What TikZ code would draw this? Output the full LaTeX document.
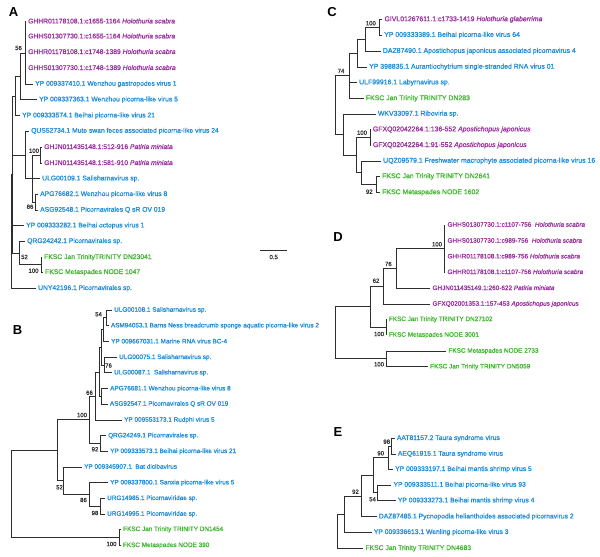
\documentclass[tikz,border=0pt]{standalone}
\usepackage{fontspec}
\setmainfont{Liberation Sans}
\newfontfamily\lfam{Liberation Sans}[FakeBold=1.2]
\newfontfamily\bfam{Liberation Sans}[FakeBold=0.8]
\definecolor{vpur}{RGB}{155,50,158}
\definecolor{vblu}{RGB}{32,142,216}
\definecolor{vgre}{RGB}{68,182,52}
\def\lfs{6.7}
\newcommand\leaffont{\lfam\fontsize{\lfs}{8}\selectfont}
\newcommand\bsfont{\bfam\fontsize{6}{7}\selectfont}
\newcommand\kids[2]{\foreach \c in {#2} {\draw[br] (#1) |- (\c);}}
\tikzset{
  br/.style={draw=black!82, line width=0.75pt},
  lf/.style={anchor=west, inner xsep=2pt, inner ysep=0pt, font=\leaffont, text height=4.8pt, text depth=1.4pt},
  pu/.style={lf, text=vpur},
  bl/.style={lf, text=vblu},
  gr/.style={lf, text=vgre},
  bs/.style={font=\bsfont, inner sep=0pt, text=black!82},
  panel/.style={font=\fontsize{13}{15}\selectfont\bfseries, inner sep=0pt}
}
\begin{document}
\begin{tikzpicture}[x=1pt,y=-1pt]
\useasboundingbox (0,0) rectangle (600,557);
% ================= Panel A =================
\def\lfs{6.75}
\node[panel] (LA) at (13.5,12) {A};
\node[pu] (A1) at (26,21.7) {GHHR01178108.1:c1655-1164 \textit{Holothuria scabra}};
\node[pu] (A2) at (26,36.7) {GHHS01307730.1:c1655-1164 \textit{Holothuria scabra}};
\node[pu] (A3) at (26,52.3) {GHHR01178108.1:c1748-1389 \textit{Holothuria scabra}};
\node[pu] (A4) at (26,68.3) {GHHS01307730.1:c1748-1389 \textit{Holothuria scabra}};
\node[bl] (A5) at (33,84) {YP 009337410.1 Wenzhou gastropodes virus 1};
\node[bl] (A6) at (37,99.7) {YP 009337363.1 Wenzhou picorna-like virus 5};
\node[bl] (A7) at (20,115.7) {YP 009333574.1 Beihai picorna-like virus 21};
\node[bl] (A8) at (29,131) {QUS52734.1 Mute swan feces associated picorna-like virus 24};
\node[pu] (A9) at (42,147.3) {GHJN011435148.1:512-916 \textit{Patiria miniata}};
\node[pu] (A10) at (42,163.3) {GHJN011435148.1:581-910 \textit{Patiria miniata}};
\node[bl] (A11) at (40,178.7) {ULG00109.1 Salisharnavirus sp.};
\node[bl] (A12) at (38,194.3) {APG76682.1 Wenzhou picorna-like virus 8};
\node[bl] (A13) at (38,210) {ASG92548.1 Picornavirales Q sR OV 019};
\node[bl] (A14) at (24,225.7) {YP 009333282.1 Beihai octopus virus 1};
\node[bl] (A15) at (25,241.3) {QRG24242.1 Picornavirales sp.};
\node[gr] (A16) at (42,257.3) {FKSC Jan TrinityTRINITY DN23041};
\node[gr] (A17) at (43,272.3) {FKSC Metaspades NODE 1047};
\node[bl] (A18) at (36,288.3) {UNY42196.1 Picornavirales sp.};
\coordinate (a1) at (25,52.9);
\coordinate (a56) at (20.7,76.3);
\coordinate (a3) at (15.7,96);
\coordinate (aGH) at (40.7,155.3);
\coordinate (aAA) at (35,202.2);
\coordinate (aU) at (32.3,178.75);
\coordinate (aQ) at (25.7,154.9);
\coordinate (aF) at (41,264.8);
\coordinate (a52) at (19,253);
\coordinate (aB) at (12.7,174.5);
\coordinate (aR) at (11.7,231.4);
\kids{a1}{A1.west,A2.west,A3.west,A4.west,A5.west}
\kids{a56}{a1,A6.west}
\kids{a3}{a56,A7.west}
\kids{aGH}{A9.west,A10.west}
\kids{aAA}{A12.west,A13.west}
\kids{aU}{aGH,A11.west,aAA}
\kids{aQ}{A8.west,aU}
\kids{aF}{A16.west,A17.west}
\kids{a52}{A15.west,aF}
\kids{aB}{a3,aQ,A14.west,a52}
\kids{aR}{aB,A18.west}
\node[bs] (sa1) at (18.5,48) {56};
\node[bs] (sa2) at (34,150.7) {100};
\node[bs] (sa3) at (30,206.7) {86};
\node[bs] (sa4) at (24.5,257) {52};
\node[bs] (sa5) at (33.5,270.7) {100};
\coordinate (sbL) at (260,250);
\coordinate (sbR) at (287.3,250);
\draw[br] (sbL) -- (sbR);
\node[bs] (sbT) at (273.7,257) {0.5};
% ================= Panel B =================
\def\lfs{6.4}
\node[panel] (LB) at (17.5,330) {B};
\node[bl] (B1) at (112,310) {ULG00108.1 Salisharnavirus sp.};
\node[bl] (B2) at (108.7,325.7) {ASM94053.1 Barns Ness breadcrumb sponge aquatic picorna-like virus 2};
\node[bl] (B3) at (109,341.7) {YP 009667031.1 Marine RNA virus BC-4};
\node[bl] (B4) at (117,357.3) {ULG00075.1 Salisharnavirus sp.};
\node[bl] (B5) at (112,372.7) {ULG00087.1\ \ Salisharnavirus sp.};
\node[bl] (B6) at (108,388.7) {APG76681.1 Wenzhou picorna-like virus 8};
\node[bl] (B7) at (107.7,404) {ASG92547.1 Picornavirales Q sR OV 019};
\node[bl] (B8) at (122,420) {YP 009553173.1 Rudphi virus 5};
\node[bl] (B9) at (106,435.7) {QRG24249.1 Picornavirales sp.};
\node[bl] (B10) at (108,451.3) {YP 009333573.1 Beihai picorna-like virus 21};
\node[bl] (B11) at (82,467) {YP 009345907.1\ \ Bat dicibavirus};
\node[bl] (B12) at (108,482.7) {YP 009337800.1 Sanxia picorna-like virus 5};
\node[bl] (B13) at (105,498.3) {URG14985.1 Picornaviridae sp.};
\node[bl] (B14) at (105,514) {URG14995.1 Picornaviridae sp.};
\node[gr] (B15) at (121,529.3) {FKSC Jan Trinity TRINITY DN1454};
\node[gr] (B16) at (120.7,545.3) {FKSC Metaspades NODE 390};
\coordinate (b54) at (106,317.85);
\coordinate (bP1) at (103,329.8);
\coordinate (b76) at (104.3,365);
\coordinate (bP2) at (101.5,347.4);
\coordinate (bAA) at (101,396.35);
\coordinate (bP3) at (99.5,371.9);
\coordinate (b66) at (95.7,395.95);
\coordinate (b92) at (100,443.5);
\coordinate (b100) at (89.3,419.7);
\coordinate (b98) at (100,506.15);
\coordinate (b86) at (89.3,494.4);
\coordinate (b52) at (63.3,480.7);
\coordinate (bU) at (57.3,450.2);
\coordinate (bF) at (119.3,537.3);
\coordinate (bR) at (11.7,493.75);
\kids{b54}{B1.west,B2.west}
\kids{bP1}{b54,B3.west}
\kids{b76}{B4.west,B5.west}
\kids{bP2}{bP1,b76}
\kids{bAA}{B6.west,B7.west}
\kids{bP3}{bP2,bAA}
\kids{b66}{bP3,B8.west}
\kids{b92}{B9.west,B10.west}
\kids{b100}{b66,b92}
\kids{b98}{B13.west,B14.west}
\kids{b86}{B12.west,b98}
\kids{b52}{B11.west,b86}
\kids{bU}{b100,b52}
\kids{bF}{B15.west,B16.west}
\kids{bR}{bU,bF}
\node[bs] (sb1) at (98.5,314.3) {54};
\node[bs] (sb2) at (108.5,365.5) {76};
\node[bs] (sb3) at (89.5,392.7) {66};
\node[bs] (sb4) at (82,415) {100};
\node[bs] (sb5) at (95,449.3) {92};
\node[bs] (sb6) at (59.5,487.3) {52};
\node[bs] (sb7) at (83.5,500) {86};
\node[bs] (sb8) at (95,513) {98};
\node[bs] (sb9) at (111.5,544) {100};
% ================= Panel C =================
\def\lfs{6.9}
\node[panel] (LC) at (332,12) {C};
\node[pu] (C1) at (382.3,19.5) {GIVL01267611.1:c1733-1419 \textit{Holothuria glaberrima}};
\node[bl] (C2) at (382,35.2) {YP 009333389.1 Beihai picorna-like virus 64};
\node[bl] (C3) at (380.7,51.2) {DAZ87490.1 Apostichopus japonicus associated picornavirus 4};
\node[bl] (C4) at (367,67) {YP 398835.1 Aurantiochytrium single-stranded RNA virus 01};
\node[bl] (C5) at (357,82.6) {ULF99916.1 Labyrnavirus sp.};
\node[gr] (C6) at (363.7,98.5) {FKSC Jan Trinity TRINITY DN283};
\node[bl] (C7) at (375.7,114) {WKV33097.1 Riboviria sp.};
\node[pu] (C8) at (370.7,129.6) {GFXQ02042264.1:136-552 \textit{Apostichopus japonicus}};
\node[pu] (C9) at (370.7,145.3) {GFXQ02042264.1:91-552 \textit{Apostichopus japonicus}};
\node[bl] (C10) at (381,161) {UQZ09579.1 Freshwater macrophyte associated picorna-like virus 16};
\node[gr] (C11) at (380,176.5) {FKSC Jan Trinity TRINITY DN2641};
\node[gr] (C12) at (380,192.5) {FKSC Metaspades NODE 1602};
\coordinate (c100) at (379.3,27.35);
\coordinate (cD) at (365.7,39.3);
\coordinate (cY) at (357.3,53.1);
\coordinate (c74) at (349.3,75.8);
\coordinate (cG) at (370,137.45);
\coordinate (c92) at (376.7,184.5);
\coordinate (cU) at (361.7,172.75);
\coordinate (cM) at (356,155.1);
\coordinate (cW) at (343.3,134.55);
\coordinate (cR) at (335.7,105.2);
\kids{c100}{C1.west,C2.west}
\kids{cD}{c100,C3.west}
\kids{cY}{cD,C4.west}
\kids{c74}{cY,C5.west,C6.west}
\kids{cG}{C8.west,C9.west}
\kids{c92}{C11.west,C12.west}
\kids{cU}{C10.west,c92}
\kids{cM}{cG,cU}
\kids{cW}{C7.west,cM}
\kids{cR}{c74,cW}
\node[bs] (sc1) at (370.8,23.3) {100};
\node[bs] (sc2) at (341,71) {74};
\node[bs] (sc3) at (362,132.7) {100};
\node[bs] (sc4) at (369.3,191.7) {92};
% ================= Panel D =================
\def\lfs{6.4}
\node[panel] (LD) at (338,237) {D};
\node[pu] (D1) at (445.3,225) {GHHS01307730.1:c1107-756\ \ \textit{Holothuria scabra}};
\node[pu] (D2) at (445.3,241) {GHHS01307730.1:c989-756\ \ \textit{Holothuria scabra}};
\node[pu] (D3) at (445.3,256.7) {GHHR01178108.1:c989-756 \textit{Holothuria scabra}};
\node[pu] (D4) at (445.3,272.3) {GHHR01178108.1:c1107-756 \textit{Holothuria scabra}};
\node[pu] (D5) at (430.3,288.3) {GHJN011435149.1:260-622 \textit{Patiria miniata}};
\node[pu] (D6) at (430.3,304) {GFXQ02001353.1:157-453 \textit{Apostichopus japonicus}};
\node[gr] (D7) at (386.7,319.3) {FKSC Jan Trinity TRINITY DN27102};
\node[gr] (D8) at (386.7,335) {FKSC Metaspades NODE 3001};
\node[gr] (D9) at (446.3,351) {FKSC Metaspades NODE 2733};
\node[gr] (D10) at (428,366.7) {FKSC Jan Trinity TRINITY DN5059};
\coordinate (d100) at (444,248.75);
\coordinate (d76) at (396.7,268.5);
\coordinate (d62) at (383.3,286.25);
\coordinate (dF) at (386.7,327.15);
\coordinate (dA) at (370,306.7);
\coordinate (dB) at (386.7,358.85);
\coordinate (dR) at (335.7,332.8);
\kids{d100}{D1.west,D2.west,D3.west,D4.west}
\kids{d76}{d100,D5.west}
\kids{d62}{d76,D6.west}
\kids{dF}{D7.west,D8.west}
\kids{dA}{d62,dF}
\kids{dB}{D9.west,D10.west}
\kids{dR}{dA,dB}
\node[bs] (sd1) at (437,244.3) {100};
\node[bs] (sd2) at (388.3,264) {76};
\node[bs] (sd3) at (376,280.7) {62};
\node[bs] (sd4) at (379,334) {100};
\node[bs] (sd5) at (379,364.3) {100};
% ================= Panel E =================
\def\lfs{6.75}
\node[panel] (LE) at (338,432) {E};
\node[bl] (E1) at (394.7,438.3) {AAT81157.2 Taura syndrome virus};
\node[bl] (E2) at (395.7,454) {AEQ61915.1 Taura syndrome virus};
\node[bl] (E3) at (393,469.3) {YP 009333197.1 Beihai mantis shrimp virus 5};
\node[bl] (E4) at (391.3,485) {YP 009333511.1 Beihai picorna-like virus 93};
\node[bl] (E5) at (395.7,500.7) {YP 009333273.1 Beihai mantis shrimp virus 4};
\node[bl] (E6) at (376.7,516.7) {DAZ87485.1 Pycnopodia helianthoides associated picornavirus 2};
\node[bl] (E7) at (371.7,532.3) {YP 009336613.1 Wenling picorna-like virus 3};
\node[gr] (E8) at (363.3,548.3) {FKSC Jan Trinity TRINITY DN4683};
\coordinate (e98) at (391.7,446.15);
\coordinate (e90) at (388.3,457.7);
\coordinate (e54) at (377.7,492.85);
\coordinate (eN) at (373.3,475.3);
\coordinate (e92) at (361.7,496);
\coordinate (eW) at (344,514.15);
\coordinate (eR) at (337.3,531.2);
\kids{e98}{E1.west,E2.west}
\kids{e90}{e98,E3.west}
\kids{e54}{E4.west,E5.west}
\kids{eN}{e90,e54}
\kids{e92}{eN,E6.west}
\kids{eW}{e92,E7.west}
\kids{eR}{eW,E8.west}
\node[bs] (se1) at (386.7,441.7) {98};
\node[bs] (se2) at (380.7,453.3) {90};
\node[bs] (se3) at (355.5,491.7) {92};
\node[bs] (se4) at (372.5,499.3) {54};
\end{tikzpicture}
\end{document}
